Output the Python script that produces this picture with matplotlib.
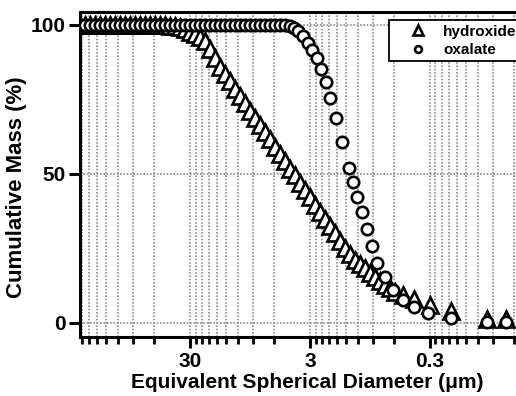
# encoding="utf-8"
# 粒径累积分布图 (hydroxide / oxalate)

import matplotlib
matplotlib.use("Agg")
import matplotlib.pyplot as plt
from matplotlib.ticker import FixedLocator, FixedFormatter, NullFormatter

# 粒径网格 (um)
size_grid = [248, 225, 204, 186, 169, 153, 139, 127, 115, 105,
             95.0, 86.3, 78.5, 71.3, 64.7, 58.8, 53.4, 48.5, 44.1, 40.0,
             36.4, 33.0, 30.0, 27.3, 24.8, 22.5, 20.4, 18.6, 16.9, 15.3,
             13.9, 12.7, 11.5, 10.5, 9.50, 8.63, 7.85, 7.13, 6.47, 5.88,
             5.34, 4.85, 4.41, 4.00, 3.64, 3.30, 3.00, 2.73, 2.48, 2.25,
             2.04, 1.86, 1.69, 1.53, 1.39, 1.27, 1.15, 1.05, 0.95, 0.86,
             0.785, 0.713, 0.647, 0.588]
tail_size = [0.50, 0.41, 0.30, 0.20, 0.10, 0.07]

# hydroxide 累积质量 (%)
hydroxide_d = size_grid + tail_size
hydroxide_mass = [100.0] * 18 + [
    99.8, 99.6, 99.2, 98.6, 97.8, 96.9, 95.9, 94.5, 91.9, 88.9,
    86.0, 83.5, 81.1, 78.5, 76.2, 73.8, 71.2, 68.9, 66.5, 64.0,
    61.7, 59.1, 56.8, 54.4, 51.8, 49.6, 47.1, 44.6, 42.3, 39.7,
    37.4, 35.0, 32.4, 30.1, 27.6, 25.3, 23.1, 21.3, 19.8, 18.3,
    16.9, 15.4, 14.2, 12.8, 11.6, 10.5,
    9.3, 7.9, 6.0, 4.0, 1.4, 1.3]

# oxalate 累积质量 (%)
oxalate_d = size_grid[:42] + [
    4.41, 4.08, 3.78, 3.43, 3.12, 2.89, 2.62, 2.43, 2.21, 2.04,
    1.82, 1.62, 1.42, 1.31, 1.22, 1.11, 1.00, 0.91, 0.83, 0.71,
    0.61, 0.50, 0.41, 0.31, 0.20, 0.10, 0.07]
oxalate_mass = [100.0] * 42 + [
    99.7, 99.0, 98.0, 96.3, 94.0, 91.6, 88.9, 85.2, 80.9, 75.5,
    68.8, 60.7, 52.0, 47.3, 42.3, 37.2, 31.5, 25.8, 20.1, 15.4,
    11.1, 7.7, 5.4, 3.4, 1.7, 0.3, 0.3]

x_ticks = [30, 3, 0.3]
x_tick_labels = ['30', '3', '0.3']
y_ticks = [0, 50, 100]

plt.rcParams['font.family'] = ['Liberation Sans', 'DejaVu Sans']
plt.rcParams['font.weight'] = 'bold'
plt.rcParams['axes.labelweight'] = 'bold'

fig = plt.figure(figsize=(5.16, 3.96), dpi=100)
ax = fig.add_axes([0.155, 0.149, 0.845, 0.821])

ax.plot(hydroxide_d, hydroxide_mass, linestyle='none', marker='^', ms=11.5,
        mfc='white', mec='black', mew=1.9, label='hydroxide', zorder=3)
ax.plot(oxalate_d, oxalate_mass, linestyle='none', marker='o', ms=8.2,
        mfc='white', mec='black', mew=1.9, label='oxalate', zorder=4)

ax.set_xscale('log')
ax.set_xlim(248, 0.0576)
ax.set_ylim(-4.7, 104.4)

# 次刻度：3 x 10^n 的倍数
minor = []
for base in [0.003, 0.03, 0.3, 3, 30]:
    for k in range(2, 10):
        minor.append(base * k)
ax.xaxis.set_major_locator(FixedLocator(x_ticks))
ax.xaxis.set_major_formatter(FixedFormatter(x_tick_labels))
ax.xaxis.set_minor_locator(FixedLocator(minor))
ax.xaxis.set_minor_formatter(NullFormatter())
ax.yaxis.set_major_locator(FixedLocator(y_ticks))

ax.grid(True, which='both', axis='x', color='#8c8c8c', linestyle=(0, (1, 1)), linewidth=1.2)
ax.grid(True, which='major', axis='y', color='#8c8c8c', linestyle=(0, (1, 1)), linewidth=1.2)
ax.set_axisbelow(True)

ax.tick_params(axis='x', which='major', direction='out', length=8, width=2.2, labelsize=15, pad=3)
ax.tick_params(axis='x', which='minor', direction='out', length=5, width=2.0)
ax.tick_params(axis='y', which='major', direction='out', length=8, width=2.2, labelsize=15, pad=2)

for side in ['left', 'bottom', 'top']:
    ax.spines[side].set_linewidth(2.2)
ax.spines['right'].set_visible(False)

ax.set_xlabel('Equivalent Spherical Diameter (\u03bcm)', fontsize=15, labelpad=0)
ax.set_ylabel('Cumulative Mass (%)', fontsize=16, labelpad=4)
ax.xaxis.set_label_coords(0.521, -0.112)
ax.yaxis.set_label_coords(-0.122, 0.46)

leg = ax.legend(loc='upper left', bbox_to_anchor=(0.709, 0.975), frameon=True,
                fancybox=False, edgecolor='black', framealpha=1, fontsize=11,
                markerscale=0.6, labelspacing=0.28, borderpad=0.3,
                handlelength=3.2, handletextpad=0.05, borderaxespad=0)
leg.get_frame().set_linewidth(1.3)

fig.savefig('out.png', dpi=100)
